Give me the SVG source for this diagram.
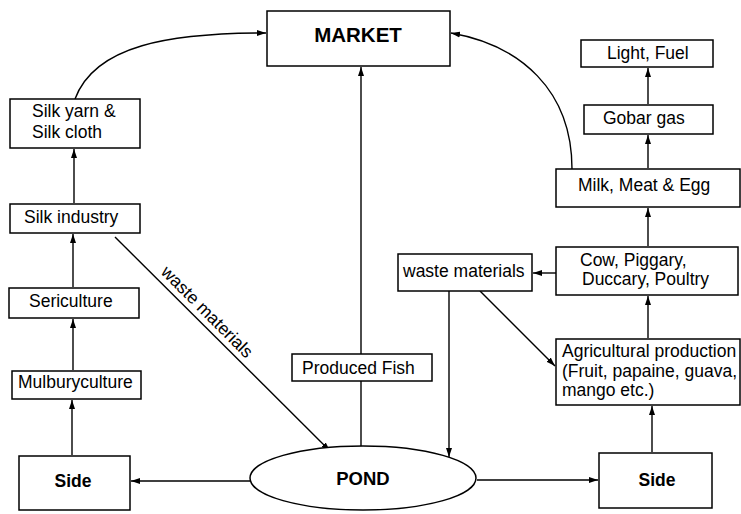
<svg xmlns="http://www.w3.org/2000/svg" width="741" height="514" viewBox="0 0 741 514">
<style>
rect,ellipse{fill:#fff;stroke:#000;stroke-width:1.5}
.c path,.c line{fill:none;stroke:#000;stroke-width:1.4}
text{font-family:"Liberation Sans",Arial,sans-serif;font-size:17.5px;fill:#000}
.b{font-weight:bold}
.m{text-anchor:middle}
</style>
<defs>
<marker id="a" markerUnits="userSpaceOnUse" markerWidth="10" markerHeight="8" refX="9" refY="4" orient="auto">
<path d="M0,1 L9,4 L0,7 Z" fill="#000"/>
</marker>
</defs>
<g class="c">
<path d="M75,99 C95,45 170,33 266,33" marker-end="url(#a)"/>
<path d="M572,169 C572,90 520,45 451,33" marker-end="url(#a)"/>
<line x1="361" y1="354" x2="361" y2="67" marker-end="url(#a)"/>
<line x1="361" y1="381" x2="361" y2="446"/>
<line x1="74" y1="203" x2="74" y2="149" marker-end="url(#a)"/>
<line x1="73" y1="287" x2="73" y2="234" marker-end="url(#a)"/>
<line x1="73" y1="370" x2="73" y2="319" marker-end="url(#a)"/>
<line x1="72" y1="455" x2="72" y2="400" marker-end="url(#a)"/>
<line x1="115" y1="237" x2="330" y2="451" marker-end="url(#a)"/>
<line x1="250" y1="481" x2="131" y2="481" marker-end="url(#a)"/>
<line x1="477" y1="480" x2="598" y2="480" marker-end="url(#a)"/>
<line x1="652" y1="452" x2="652" y2="406" marker-end="url(#a)"/>
<line x1="648" y1="338" x2="648" y2="296" marker-end="url(#a)"/>
<line x1="556" y1="273" x2="533" y2="273" marker-end="url(#a)"/>
<line x1="449" y1="291" x2="449" y2="457" marker-end="url(#a)"/>
<line x1="480" y1="291" x2="555" y2="366" marker-end="url(#a)"/>
<line x1="648" y1="246" x2="648" y2="208" marker-end="url(#a)"/>
<line x1="648" y1="168" x2="648" y2="135" marker-end="url(#a)"/>
<line x1="648" y1="104" x2="648" y2="68" marker-end="url(#a)"/>
<text transform="translate(203,316) rotate(45)" class="m">waste materials</text>
</g>
<g id="market"><rect x="267" y="11" width="183" height="55"/><text x="358" y="42" class="b m" style="font-size:20.5px">MARKET</text></g>
<g id="silkyarn"><rect x="10" y="99" width="130" height="49"/><text x="32" y="117">Silk yarn &amp;</text><text x="32" y="138">Silk cloth</text></g>
<g id="silkindustry"><rect x="10" y="204" width="130" height="29"/><text x="24" y="223">Silk industry</text></g>
<g id="sericulture"><rect x="9" y="288" width="130" height="30"/><text x="29" y="307">Sericulture</text></g>
<g id="mulbury"><rect x="12" y="371" width="129" height="28"/><text x="18" y="388">Mulburyculture</text></g>
<g id="sideleft"><rect x="19" y="456" width="111" height="54"/><text x="73" y="487" class="b m">Side</text></g>
<g id="pond"><ellipse cx="363" cy="478" rx="113" ry="32"/><text x="363" y="485" class="b m" style="font-size:18.5px">POND</text></g>
<g id="fish"><rect x="292" y="354" width="140" height="27"/><text x="302" y="374">Produced Fish</text></g>
<g id="waste"><rect x="398" y="254" width="134" height="37"/><text x="403" y="277">waste materials</text></g>
<g id="cow"><rect x="556" y="247" width="182" height="48"/><text x="580" y="266">Cow, Piggary,</text><text x="582" y="285">Duccary, Poultry</text></g>
<g id="agri"><rect x="556" y="339" width="184" height="66"/><text x="562" y="357">Agricultural production</text><text x="562" y="377">(Fruit, papaine, guava,</text><text x="562" y="396">mango etc.)</text></g>
<g id="sideright"><rect x="599" y="453" width="113" height="55"/><text x="657" y="486" class="b m">Side</text></g>
<g id="milk"><rect x="556" y="169" width="184" height="38"/><text x="578" y="191">Milk, Meat &amp; Egg</text></g>
<g id="gobar"><rect x="584" y="105" width="129" height="29"/><text x="603" y="124">Gobar gas</text></g>
<g id="light"><rect x="581" y="40" width="132" height="27"/><text x="607" y="59">Light, Fuel</text></g>
</svg>
